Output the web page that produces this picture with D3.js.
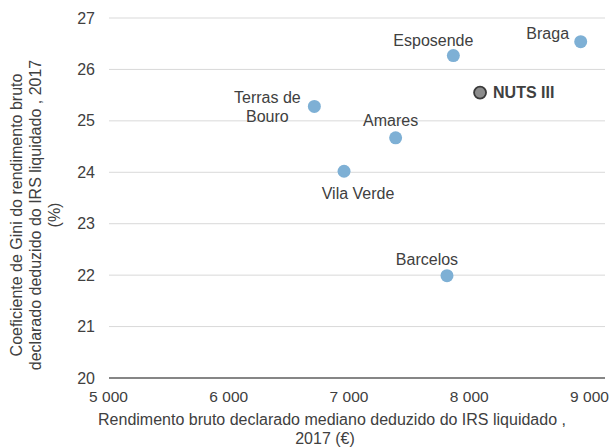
<!DOCTYPE html>
<html>
<head>
<meta charset="utf-8">
<script src="https://cdn.jsdelivr.net/npm/d3@7"></script>
<style>
  body { margin: 0; background: #fff; }
  text { font-family: "Liberation Sans", Arial, sans-serif; }
</style>
</head>
<body>
<svg id="chart" width="613" height="448"></svg>
<script>
// concelhos + NUTS III
var nomes = ["Terras de Bouro", "Esposende", "Braga", "Amares", "Vila Verde", "Barcelos", "NUTS III"];
var rendimento = [6716, 7872, 8931, 7392, 6963, 7819, 8094];
var gini = [25.28, 26.27, 26.54, 24.67, 24.02, 21.99, 25.55];

var xTicks = [5000, 6000, 7000, 8000, 9000];
var yTicks = [20, 21, 22, 23, 24, 25, 26, 27];

var xTitulo = ["Rendimento bruto declarado mediano deduzido do IRS liquidado ,", "2017 (€)"];
var yTitulo = ["Coeficiente de Gini do rendimento bruto", "declarado deduzido do IRS liquidado , 2017", "(%)"];

// posição das etiquetas (à mão, como no original)
var etiq = {
  "Terras de Bouro": { dx: -47, dy: -9, anchor: "middle", linhas: ["Terras de", "Bouro"] },
  "Esposende": { dx: -20, dy: -15, anchor: "middle" },
  "Braga": { dx: -33, dy: -8, anchor: "middle" },
  "Amares": { dx: -5, dy: -17, anchor: "middle" },
  "Vila Verde": { dx: 14, dy: 22, anchor: "middle" },
  "Barcelos": { dx: -20, dy: -16, anchor: "middle" },
  "NUTS III": { dx: 13, dy: 0, anchor: "start" }
};

var svg = d3.select("#chart");
var plotL = 109, plotR = 605, plotT = 18, plotB = 378;
var cinza = "#404040";

var x = d3.scaleLinear().domain([5000, 9000]).range([108, 589]);
var y = d3.scaleLinear().domain([20, 27]).range([plotB, plotT]);

var fmt = d => d3.format(",")(d).replace(",", " ");

// grelha
svg.append("g")
  .selectAll("line")
  .data(yTicks.filter(d => d > 20))
  .join("line")
  .attr("x1", plotL).attr("x2", plotR)
  .attr("y1", d => y(d)).attr("y2", d => y(d))
  .attr("stroke", "#d9d9d9")
  .attr("stroke-width", 1);

// eixo x
svg.append("line")
  .attr("x1", plotL).attr("x2", plotR)
  .attr("y1", plotB).attr("y2", plotB)
  .attr("stroke", "#868686")
  .attr("stroke-width", 2);

var xAxis = svg.append("g")
  .attr("transform", `translate(0,${plotB})`)
  .call(d3.axisBottom(x).tickValues(xTicks).tickFormat(fmt).tickSize(0).tickPadding(13));
xAxis.select(".domain").remove();
xAxis.selectAll("text")
  .attr("font-size", 15.5)
  .attr("font-family", "Liberation Sans, Arial, sans-serif")
  .attr("fill", cinza);

var yAxis = svg.append("g")
  .attr("transform", `translate(${plotL},0)`)
  .call(d3.axisLeft(y).tickValues(yTicks).tickFormat(d3.format("d")).tickSize(0).tickPadding(14));
yAxis.select(".domain").remove();
yAxis.selectAll("text")
  .attr("font-size", 16)
  .attr("font-family", "Liberation Sans, Arial, sans-serif")
  .attr("fill", cinza);

// títulos
svg.append("text")
  .attr("text-anchor", "middle")
  .attr("font-size", 16)
  .attr("fill", cinza)
  .selectAll("tspan")
  .data(xTitulo)
  .join("tspan")
  .attr("x", (d, i) => i == 0 ? 332 : 325)
  .attr("y", (d, i) => 425 + i * 19)
  .text(d => d);

svg.append("text")
  .attr("text-anchor", "middle")
  .attr("font-size", 16)
  .attr("fill", cinza)
  .attr("transform", "translate(0,215) rotate(-90)")
  .selectAll("tspan")
  .data(yTitulo)
  .join("tspan")
  .attr("x", 0)
  .attr("y", (d, i) => 22 + i * 19)
  .text(d => d);

// pontos
var dados = nomes.map((n, i) => ({ nome: n, x: rendimento[i], y: gini[i] }));

svg.append("g")
  .selectAll("circle")
  .data(dados)
  .join("circle")
  .attr("cx", d => x(d.x))
  .attr("cy", d => y(d.y))
  .attr("r", d => d.nome == "NUTS III" ? 6 : 6.5)
  .attr("fill", d => d.nome == "NUTS III" ? "#8c8c8c" : "#7eb0d5")
  .attr("stroke", d => d.nome == "NUTS III" ? "#3a3a3a" : "none")
  .attr("stroke-width", 1.8);

// etiquetas
svg.append("g")
  .selectAll("text")
  .data(dados)
  .join("text")
  .attr("text-anchor", d => etiq[d.nome].anchor)
  .attr("font-size", 16)
  .attr("font-weight", d => d.nome == "NUTS III" ? "bold" : "normal")
  .attr("fill", cinza)
  .each(function (d) {
    var e = etiq[d.nome];
    var linhas = e.linhas || [d.nome];
    var cx = x(d.x) + e.dx, cy = y(d.y) + e.dy;
    d3.select(this).selectAll("tspan")
      .data(linhas)
      .join("tspan")
      .attr("x", cx)
      .attr("y", (l, i) => cy + 5.5 + i * 19)
      .text(l => l);
  });
</script>
</body>
</html>
